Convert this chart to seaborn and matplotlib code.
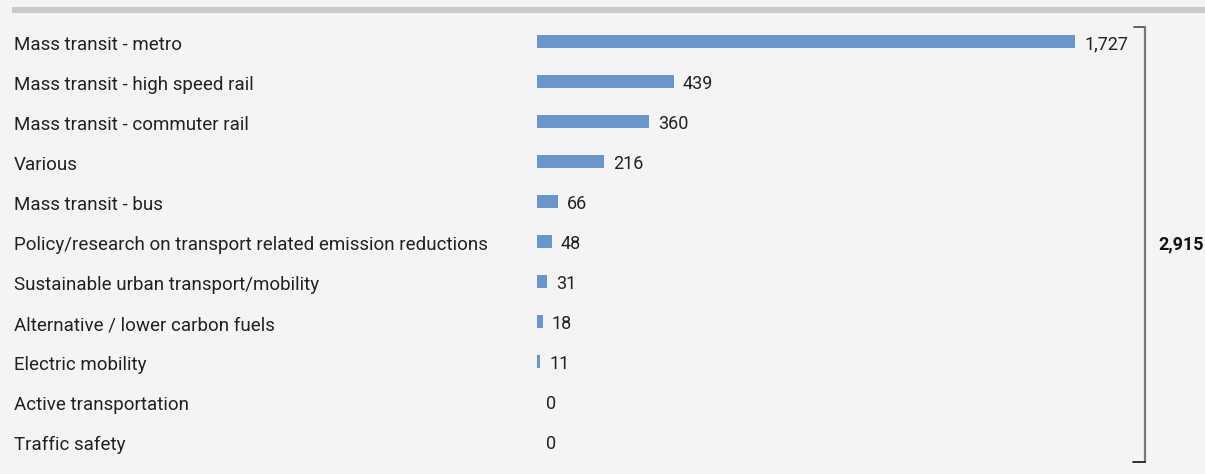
import matplotlib
matplotlib.use("Agg")
import matplotlib.pyplot as plt
import matplotlib.transforms as mtransforms
from matplotlib.lines import Line2D
from matplotlib.patches import Rectangle
import seaborn as sns
import pandas as pd

categories = [
    "Mass transit - metro",
    "Mass transit - high speed rail",
    "Mass transit - commuter rail",
    "Various",
    "Mass transit - bus",
    "Policy/research on transport related emission reductions",
    "Sustainable urban transport/mobility",
    "Alternative / lower carbon fuels",
    "Electric mobility",
    "Active transportation",
    "Traffic safety",
]
values = [1727, 439, 360, 216, 66, 48, 31, 18, 11, 0, 0]
total_label = "2,915"

BG = "#f3f4f6"
BAR = "#6a96cb"
TXT = "#222222"

sns.set_style("white")
plt.rcParams["font.family"] = ["Roboto", "DejaVu Sans"]

W, H = 1205, 474
fig = plt.figure(figsize=(W / 100, H / 100), dpi=100, facecolor=BG)

def fx(px):
    return px / W

def fy(py):
    return 1 - py / H

ax_left, ax_right = 537, 1205
ax_top, ax_bot = 21.5, 461.5
ax = fig.add_axes([fx(ax_left), fy(ax_bot), (ax_right - ax_left) / W, (ax_bot - ax_top) / H])
ax.set_facecolor(BG)

df = pd.DataFrame({"category": categories, "value": values})
sns.barplot(data=df, x="value", y="category", orient="h", color=BAR,
            width=0.34, ax=ax, saturation=1, order=categories, linewidth=0)

px_per_unit = 538 / 1727
ax.set_xlim(0, (ax_right - ax_left) / px_per_unit)
ax.set_ylim(len(categories) - 0.5, -0.5)
for s in ax.spines.values():
    s.set_visible(False)
ax.set_xticks([])
ax.set_yticks([])
ax.set_xlabel("")
ax.set_ylabel("")

FS_LAB = 13.5
FS_VAL = 13
label_trans = mtransforms.blended_transform_factory(fig.transFigure, ax.transData)
val_off = mtransforms.offset_copy(ax.transData, fig=fig, x=9 * 72 / 100, y=0, units="points")
for i, (c, v) in enumerate(zip(categories, values)):
    ax.text(fx(14), i + 0.09, c, transform=label_trans, ha="left", va="center",
            fontsize=FS_LAB, color=TXT)
    ax.text(v, i + 0.06, f"{v:,}", transform=val_off, ha="left", va="center",
            fontsize=FS_VAL, color=TXT)

# top gray band
fig.patches.append(Rectangle((fx(12), fy(13)), fx(1205) - fx(12), (13 - 7) / H,
                             transform=fig.transFigure, facecolor="#c9c9c9",
                             edgecolor="none", zorder=0))

# bracket
bx = 1145
fig.add_artist(Line2D([fx(1134), fx(bx)], [fy(27), fy(27)], color="#555555", lw=1.3))
fig.add_artist(Line2D([fx(bx), fx(bx)], [fy(27), fy(462)], color="#777777", lw=1.6))
fig.add_artist(Line2D([fx(1133), fx(bx)], [fy(462), fy(462)], color="#222222", lw=1.3))
fig.text(fx(1204), fy(244), total_label, ha="right", va="center", fontsize=FS_VAL,
         fontweight="bold", color="#111111")

fig.savefig("out.png", dpi=100, facecolor=BG)
